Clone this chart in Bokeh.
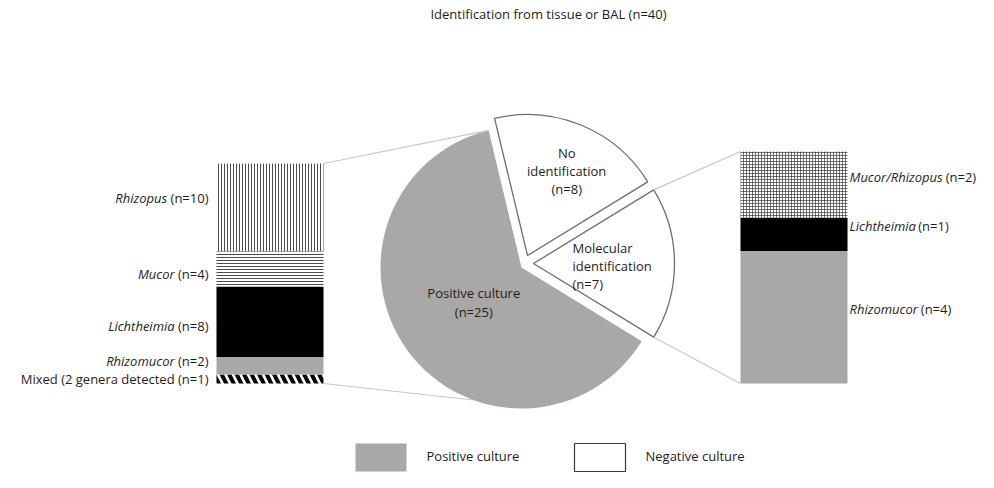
import math
from bokeh.plotting import figure
from bokeh.models import Range1d
from bokeh.core.properties import value
from bokeh.embed import file_html
from bokeh.resources import INLINE

# ---------------- data ----------------
TITLE = "Identification from tissue or BAL (n=40)"

# pie, listed anticlockwise starting at the top
pie_names = ["Positive culture", "Molecular identification", "No identification"]
pie_lines = [["Positive culture"], ["Molecular", "identification"], ["No", "identification"]]
pie_counts = [25, 7, 8]
pie_positive = [True, False, False]

# left bar (positive culture), top to bottom
left_names = ["Rhizopus", "Mucor", "Lichtheimia", "Rhizomucor", "Mixed (2 genera detected"]
left_counts = [10, 4, 8, 2, 1]
left_italic = [True, True, True, True, False]

# right bar (molecular identification), top to bottom
right_names = ["Mucor/Rhizopus", "Lichtheimia", "Rhizomucor"]
right_counts = [2, 1, 4]

legend_labels = ["Positive culture", "Negative culture"]

# ---------------- styles / layout ----------------
W, H = 978, 472
FONT = "Open Sans"
FS = 13
TXT = "#1e1e1e"
GRAY = "#aaa7a7"
EDGE = "#6e6e6e"
CONN = "#c8c8c8"

CX, CY, R = 521, 205, 141
START = math.radians(103.5)
EXPLODE = [(0, 0), (12, 4), (6, 12)]
BOTTOM_CUT = math.radians(250)

LBAR = (216, 323)
RBAR = (740, 847)
BAR_BOTTOM = 89
LBAR_TOP = 309
RBAR_TOP = 321
LLAB_X = 208
RLAB_X = 849

seg_style = {
    "Rhizopus": dict(fill_color="white", hatch_pattern="|", hatch_color="#4a4a4a", hatch_scale=3, hatch_weight=1),
    "Mucor": dict(fill_color="white", hatch_pattern="-", hatch_color="#4a4a4a", hatch_scale=3, hatch_weight=1),
    "Lichtheimia": dict(fill_color="black"),
    "Rhizomucor": dict(fill_color=GRAY),
    "Mixed (2 genera detected": dict(fill_color="white", hatch_pattern="\\", hatch_color="black", hatch_scale=15, hatch_weight=4),
    "Mucor/Rhizopus": dict(fill_color="white", hatch_pattern="+", hatch_color="#3a3a3a", hatch_scale=3, hatch_weight=0.7),
}
left_dy = [10, -5, -4, 5, 0]
right_dy = [8, 8, 8]

EM = {' ': .26, '(': .295, ')': .295, 'n': .614, '=': .572, '/': .37, 'R': .617, 'h': .614,
      'i': .253, 'z': .478, 'o': .602, 'p': .613, 'u': .614, 's': .488, 'M': .903, 'c': .50,
      'r': .408, 'L': .519, 't': .352, 'e': .561, 'm': .93, 'a': .556}
for d in "0123456789":
    EM[d] = .572


def tw(s, italic=False):
    return sum(EM.get(ch, .56) for ch in s) * FS * (0.93 if italic else 1.0)


p = figure(width=W, height=H, x_range=Range1d(0, W), y_range=Range1d(0, H),
           output_backend="svg", toolbar_location=None, min_border=0,
           x_axis_location=None, y_axis_location=None)
p.grid.visible = False
p.outline_line_color = None
p.background_fill_color = "white"
p.border_fill_color = "white"

txt = dict(text_font=value(FONT), text_font_size=f"{FS}px", text_color=TXT, text_baseline="middle")

# title
p.text(x=[548], y=[459], text=[TITLE], text_align="center", **txt)

# ---------------- pie ----------------
total = sum(pie_counts)
a = START
mol_center = None
mol_angles = None
pos_start = START
for name, lines, c, pos, (ox, oy) in zip(pie_names, pie_lines, pie_counts, pie_positive, EXPLODE):
    span = 2 * math.pi * c / total
    x0, y0 = CX + ox, CY + oy
    mid = a + span / 2
    if pos:
        p.wedge(x=[x0], y=[y0], radius=R, start_angle=a, end_angle=a + span,
                direction="anticlock", fill_color=GRAY, line_color=None)
        lx, ly = x0 + 59 * math.cos(mid), y0 + 59 * math.sin(mid)
        p.text(x=[lx, lx], y=[ly + 9.5, ly - 9.5], text=[lines[0], f"(n={c})"], text_align="center", **txt)
        pos_start = a
    else:
        p.wedge(x=[x0], y=[y0], radius=R, start_angle=a, end_angle=a + span,
                direction="anticlock", fill_color="white", line_color=EDGE, line_width=1.3)
        all_lines = lines + [f"(n={c})"]
        if name.startswith("Molecular"):
            mol_center, mol_angles = (x0, y0), (a, a + span)
            lx, ly = x0 + 39, y0 - 2
            p.text(x=[lx] * 3, y=[ly + 18, ly, ly - 18], text=all_lines, text_align="left", **txt)
        else:
            lx, ly = x0 + 92 * math.cos(mid) + 4, y0 + 92 * math.sin(mid)
            p.text(x=[lx] * 3, y=[ly + 18, ly, ly - 18], text=all_lines, text_align="center", **txt)
    a += span

# ---------------- left bar ----------------
lscale = (LBAR_TOP - BAR_BOTTOM) / sum(left_counts)
top = LBAR_TOP
for name, c, it, dy in zip(left_names, left_counts, left_italic, left_dy):
    bot = top - c * lscale
    p.quad(left=[LBAR[0]], right=[LBAR[1]], bottom=[bot], top=[top], line_color=None, **seg_style[name])
    ym = (top + bot) / 2 + dy
    reg = f"(n={c})"
    if it:
        p.text(x=[LLAB_X], y=[ym], text=[reg], text_align="right", **txt)
        p.text(x=[LLAB_X - tw(reg) - tw(" ")], y=[ym], text=[name], text_align="right",
               text_font_style="italic", **txt)
    else:
        p.text(x=[LLAB_X], y=[ym], text=[f"{name} {reg}"], text_align="right", **txt)
    top = bot

# ---------------- right bar ----------------
rscale = (RBAR_TOP - BAR_BOTTOM) / sum(right_counts)
top = RBAR_TOP
for name, c, dy in zip(right_names, right_counts, right_dy):
    bot = top - c * rscale
    p.quad(left=[RBAR[0]], right=[RBAR[1]], bottom=[bot], top=[top], line_color=None, **seg_style[name])
    ym = (top + bot) / 2 + dy
    p.text(x=[RLAB_X], y=[ym], text=[name], text_align="left", text_font_style="italic", **txt)
    p.text(x=[RLAB_X + tw(name, True) + tw(" ")], y=[ym], text=[f"(n={c})"], text_align="left", **txt)
    top = bot

# ---------------- connectors ----------------
p.segment(x0=[LBAR[1], LBAR[1]], y0=[LBAR_TOP, BAR_BOTTOM],
          x1=[CX + R * math.cos(pos_start), CX + R * math.cos(BOTTOM_CUT)],
          y1=[CY + R * math.sin(pos_start), CY + R * math.sin(BOTTOM_CUT)],
          line_color=CONN, line_width=1.2)
mx, my = mol_center
p.segment(x0=[mx + R * math.cos(mol_angles[1]), mx + R * math.cos(mol_angles[0])],
          y0=[my + R * math.sin(mol_angles[1]), my + R * math.sin(mol_angles[0])],
          x1=[RBAR[0], RBAR[0]], y1=[RBAR_TOP, BAR_BOTTOM],
          line_color=CONN, line_width=1.2)

# ---------------- legend ----------------
leg_x = [355, 574]
leg_fill = [GRAY, "white"]
leg_line = [None, "#3a3a3a"]
for lab, x, f, lc in zip(legend_labels, leg_x, leg_fill, leg_line):
    p.quad(left=[x], right=[x + 51], bottom=[1], top=[29], fill_color=f, line_color=lc, line_width=1.2)
    p.text(x=[x + 71], y=[17], text=[lab], text_align="left", **txt)

open("out.html", "w").write(file_html(p, INLINE))
